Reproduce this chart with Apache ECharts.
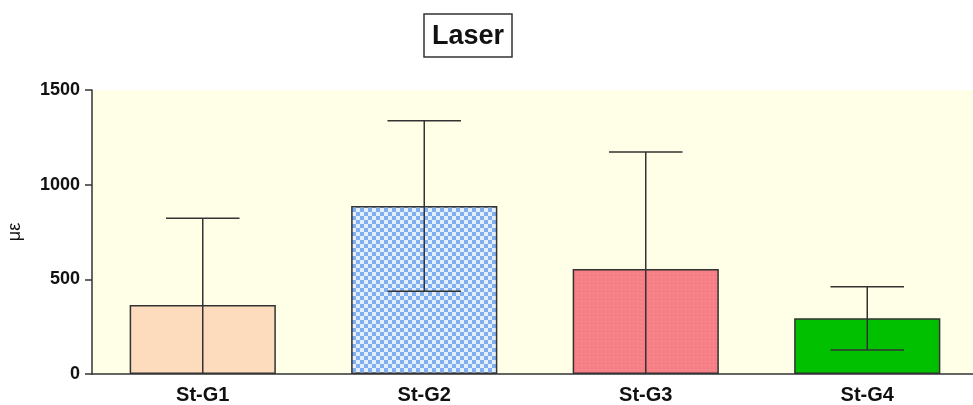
<!DOCTYPE html>
<html>
<head>
<meta charset="utf-8">
<script src="https://cdn.jsdelivr.net/npm/echarts@6/dist/echarts.min.js"></script>
<style>
  html, body { margin: 0; padding: 0; background: #ffffff; }
  #chart { width: 973px; height: 405px; }
</style>
</head>
<body>
<div id="chart"></div>
<script>
// Strain readings per specimen group (mean and standard deviation)
const groups = ['St-G1', 'St-G2', 'St-G3', 'St-G4'];
const means = [364, 887, 555, 294];
const stdDevs = [459, 450, 618, 167];
const yTicks = [0, 500, 1000, 1500];

// Fill patterns for each bar
function checkerPattern() {
  const c = document.createElement('canvas');
  c.width = 8; c.height = 8;
  const g = c.getContext('2d');
  g.fillStyle = '#e4eefc';
  g.fillRect(0, 0, 8, 8);
  g.fillStyle = '#7fafee';
  g.fillRect(0, 0, 4, 4);
  g.fillRect(4, 4, 4, 4);
  return c;
}
function dotPattern() {
  const c = document.createElement('canvas');
  c.width = 4; c.height = 4;
  const g = c.getContext('2d');
  g.fillStyle = '#f57f84';
  g.fillRect(0, 0, 4, 4);
  g.fillStyle = '#f99ba0';
  g.fillRect(1, 1, 1, 1);
  return c;
}
const fills = [
  '#fddcbe',
  { image: checkerPattern(), repeat: 'repeat' },
  { image: dotPattern(), repeat: 'repeat' },
  '#00c000'
];

const barData = means.map((v, i) => ({ value: v, itemStyle: { color: fills[i] } }));
const errData = means.map((v, i) => [i, Math.max(v - stdDevs[i], 0), v + stdDevs[i], v - stdDevs[i] >= 0]);

const chart = echarts.init(document.getElementById('chart'), null, { renderer: 'canvas' });
chart.setOption({
  animation: false,
  backgroundColor: '#ffffff',
  title: {
    text: 'Laser',
    left: 424,
    top: 14,
    padding: [9, 8, 7, 8],
    borderColor: '#333333',
    borderWidth: 1.5,
    textStyle: { fontFamily: 'Liberation Sans', fontWeight: 'bold', fontSize: 27, color: '#111111' }
  },
  grid: {
    left: 92, right: -5, top: 90, bottom: 31,
    outerBoundsMode: 'none', containLabel: false,
    show: true, backgroundColor: '#fffee6', borderWidth: 0
  },
  xAxis: {
    type: 'category',
    data: groups,
    axisLine: { lineStyle: { color: '#333333', width: 1.5 } },
    axisTick: { alignWithLabel: true, length: 8, lineStyle: { color: '#333333', width: 1.5 } },
    axisLabel: { fontFamily: 'Liberation Sans', fontWeight: 'bold', fontSize: 20, color: '#111111', margin: 11 }
  },
  yAxis: {
    type: 'value',
    min: yTicks[0],
    max: yTicks[yTicks.length - 1],
    interval: 500,
    name: 'με',
    nameLocation: 'middle',
    nameRotate: 90,
    nameGap: 68,
    nameTextStyle: { fontFamily: 'Liberation Sans', fontSize: 18, color: '#111111' },
    splitLine: { show: false },
    axisLine: { show: true, lineStyle: { color: '#333333', width: 1.5 } },
    axisTick: { show: true, length: 7, lineStyle: { color: '#333333', width: 1.5 } },
    axisLabel: {
      fontFamily: 'Liberation Sans', fontWeight: 'bold', fontSize: 18, color: '#111111', margin: 12,
      formatter: function (v) { return String(v); }
    }
  },
  series: [
    {
      type: 'bar',
      data: barData,
      barWidth: '66%',
      itemStyle: { borderColor: '#333333', borderWidth: 1.5 }
    },
    {
      type: 'custom',
      data: errData,
      z: 5,
      renderItem: function (params, api) {
        const i = api.value(0);
        const lo = api.coord([i, api.value(1)]);
        const hi = api.coord([i, api.value(2)]);
        const capHalf = api.size([1, 0])[0] * 0.166;
        const style = { stroke: '#333333', lineWidth: 1.5 };
        const children = [
          { type: 'line', shape: { x1: hi[0], y1: hi[1], x2: lo[0], y2: lo[1] }, style: style },
          { type: 'line', shape: { x1: hi[0] - capHalf, y1: hi[1], x2: hi[0] + capHalf, y2: hi[1] }, style: style }
        ];
        if (api.value(3)) {
          children.push({ type: 'line', shape: { x1: lo[0] - capHalf, y1: lo[1], x2: lo[0] + capHalf, y2: lo[1] }, style: style });
        }
        return { type: 'group', children: children };
      }
    }
  ]
});
</script>
</body>
</html>
